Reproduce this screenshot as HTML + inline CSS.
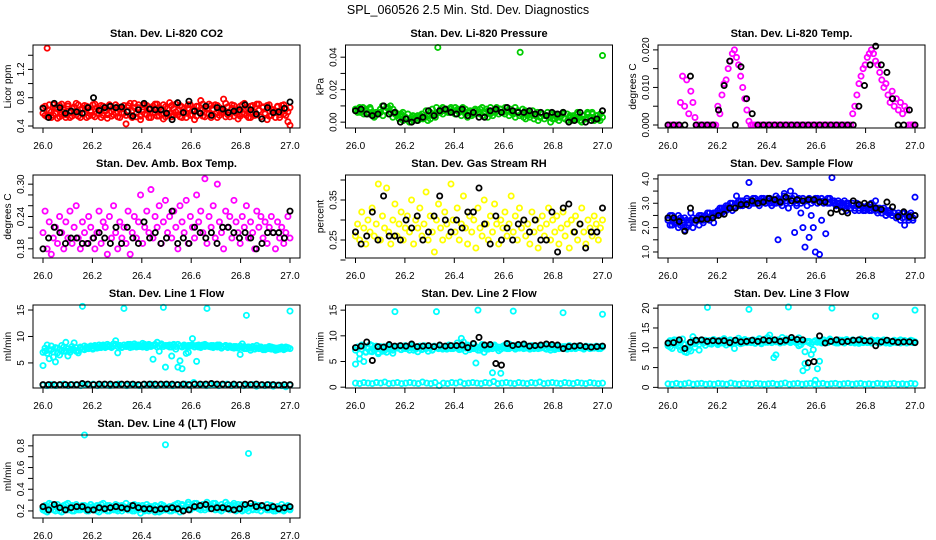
<!DOCTYPE html>
<html><head><meta charset="utf-8">
<style>
html,body{margin:0;padding:0;background:#fff;}
svg{display:block;font-family:"Liberation Sans",Arial,sans-serif;}
</style></head>
<body>
<svg id="c" width="936" height="540" viewBox="0 0 936 540" xmlns="http://www.w3.org/2000/svg">
<rect x="0" y="0" width="936" height="540" fill="#fff"/>
<text x="468" y="14" text-anchor="middle" font-size="12.5">SPL_060526  2.5 Min. Std. Dev. Diagnostics</text>
</svg>
<script>
// ---- data ----
const xTickLabels = ["26.0","26.2","26.4","26.6","26.8","27.0"];
const xTicks = [26.0,26.2,26.4,26.6,26.8,27.0];
const xStart = 26.0, xEnd = 27.0;

const co2Red = [0.66,0.55,1.50,0.62,0.52,0.70,0.58,0.64,0.53,0.71,0.60,0.56,0.68,0.52,0.65,0.59,0.72,0.54,0.63,0.57,0.69,0.52,0.66,0.60,0.55,0.71,0.58,0.64,0.52,0.68,0.61,0.56,0.70,0.54,0.63,0.59,0.67,0.52,0.65,0.58,0.43,0.69,0.55,0.62,0.72,0.53,0.66,0.49,0.60,0.70,0.56,0.64,0.52,0.68,0.59,0.71,0.54,0.62,0.50,0.67,0.57,0.73,0.53,0.65,0.60,0.56,0.69,0.52,0.64,0.58,0.70,0.55,0.62,0.49,0.68,0.60,0.76,0.54,0.66,0.58,0.71,0.52,0.64,0.57,0.69,0.55,0.62,0.78,0.53,0.67,0.59,0.70,0.54,0.63,0.50,0.68,0.57,0.72,0.55,0.64,0.52,0.69,0.60,0.56,0.71,0.53,0.66,0.58,0.49,0.70,0.55,0.63,0.59,0.67,0.52,0.69,0.57,0.64,0.46,0.41];
const co2Red2 = [0.58,0.68,0.53,0.70,0.60,0.55,0.66,0.51,0.69,0.57,0.63,0.52,0.71,0.59,0.54,0.67,0.56,0.70,0.52,0.65,0.58,0.68,0.54,0.62,0.70,0.53,0.66,0.57,0.69,0.55,0.63,0.51,0.67,0.60,0.56,0.70,0.53,0.64,0.58,0.69,0.55,0.61,0.72,0.52,0.66,0.58,0.70,0.54,0.63,0.57,0.69,0.52,0.65,0.59,0.71,0.54,0.66,0.57,0.70,0.53,0.64,0.58,0.69,0.55,0.71,0.62,0.53,0.67,0.59,0.52,0.65,0.70,0.56,0.63,0.54,0.68,0.58,0.71,0.53,0.64,0.57,0.69,0.55,0.70,0.52,0.66,0.59,0.63,0.72,0.56,0.53,0.65,0.69,0.58,0.61,0.54,0.70,0.57,0.63,0.52,0.68,0.59,0.55,0.71,0.62,0.53,0.67,0.57,0.69,0.54,0.64,0.60,0.52,0.68,0.56,0.63,0.70,0.55,0.60,0.66];
const co2Black = [0.65,0.52,0.72,0.66,0.58,0.61,0.60,0.58,0.66,0.80,0.62,0.66,0.68,0.66,0.67,0.60,0.54,0.63,0.72,0.64,0.63,0.63,0.58,0.49,0.73,0.59,0.75,0.61,0.58,0.68,0.55,0.66,0.64,0.59,0.61,0.63,0.70,0.63,0.57,0.50,0.66,0.59,0.60,0.65,0.74];

const presGreen = [0.007,0.008,0.006,0.009,0.007,0.005,0.008,0.006,0.004,0.005,0.006,0.004,0.007,0.009,0.010,0.008,0.006,0.005,0.004,0.006,0.003,0.005,0.002,0.004,0.003,0.001,0.004,0.002,0.003,0.001,0.002,0.004,0.003,0.046,0.006,0.005,0.007,0.006,0.008,0.007,0.009,0.008,0.007,0.009,0.008,0.006,0.007,0.005,0.008,0.006,0.005,0.004,0.006,0.003,0.005,0.004,0.006,0.007,0.008,0.006,0.009,0.007,0.008,0.006,0.009,0.007,0.043,0.008,0.007,0.006,0.005,0.007,0.004,0.006,0.003,0.005,0.004,0.006,0.003,0.005,0.002,0.004,0.003,0.005,0.002,0.001,0.004,0.002,0.003,0.005,0.001,0.004,0.002,0.006,0.003,0.005,0.002,0.004,0.001,0.041];
const presGreen2 = [0.008,0.006,0.009,0.007,0.005,0.008,0.006,0.009,0.005,0.003,0.006,0.005,0.008,0.010,0.007,0.009,0.005,0.006,0.003,0.005,0.004,0.002,0.005,0.001,0.003,0.002,0.000,0.003,0.001,0.002,0.004,0.002,0.005,0.003,0.007,0.004,0.006,0.008,0.005,0.009,0.006,0.008,0.009,0.007,0.008,0.006,0.009,0.007,0.005,0.007,0.006,0.004,0.007,0.005,0.003,0.006,0.004,0.005,0.007,0.006,0.008,0.009,0.006,0.008,0.007,0.009,0.006,0.007,0.009,0.005,0.008,0.006,0.005,0.007,0.004,0.006,0.005,0.003,0.006,0.004,0.005,0.003,0.002,0.004,0.003,0.005,0.002,0.004,0.001,0.003,0.005,0.002,0.004,0.003,0.000,0.002,0.005,0.003,0.001,0.004,0.006,0.002,0.005,0.003,0.001,0.004,0.002,0.006,0.003,0.000,0.004,0.002,0.005,0.003,0.006,0.001,0.004,0.002,0.005,0.003];
const presBlack = [0.007,0.008,0.005,0.004,0.005,0.010,0.005,0.006,0.000,0.002,0.000,0.001,0.003,0.007,0.004,0.007,0.008,0.006,0.005,0.008,0.004,0.006,0.003,0.003,0.007,0.008,0.006,0.009,0.007,0.006,0.006,0.007,0.005,0.006,0.004,0.006,0.005,0.006,0.000,0.001,0.006,0.000,0.001,0.002,0.007];

const tempMag = [0,0,0,0,0,0,0.006,0.013,0.005,0.012,0.003,0.009,0.006,0.002,0,0,0,0,0,0,0,0,0,0,0.005,0.003,0.008,0.011,0.012,0.015,0.017,0.019,0.020,0.018,0.016,0.013,0.010,0.007,0.004,0.001,0,0,0,0,0,0,0,0,0,0,0,0,0,0,0,0,0,0,0,0,0,0,0,0,0,0,0,0,0,0,0,0,0,0,0,0,0,0,0,0,0,0,0,0,0,0,0,0,0,0.003,0.005,0.008,0.011,0.013,0.015,0.016,0.018,0.019,0.020,0.019,0.017,0.016,0.014,0.012,0.010,0.011,0.008,0.006,0.009,0.005,0.007,0.004,0.006,0.003,0.005,0.004,0,0,0,0];
const tempBlack = [0,0,0,0,0.013,0,0,0,0,0.004,0.0105,0.017,0,0.0155,0.007,0.003,0,0,0,0,0,0,0,0,0,0,0,0,0,0,0,0,0,0,0.005,0.0105,0.016,0.021,0.016,0.014,0.007,0,0,0.004,0];

const ambMag = [0.21,0.25,0.18,0.23,0.17,0.20,0.22,0.19,0.24,0.21,0.18,0.23,0.20,0.25,0.19,0.22,0.26,0.20,0.18,0.23,0.21,0.19,0.24,0.22,0.20,0.18,0.21,0.25,0.19,0.23,0.22,0.17,0.24,0.20,0.26,0.21,0.18,0.23,0.20,0.22,0.19,0.25,0.17,0.21,0.24,0.20,0.23,0.28,0.19,0.22,0.25,0.21,0.29,0.20,0.24,0.22,0.26,0.19,0.23,0.27,0.21,0.24,0.20,0.25,0.22,0.18,0.26,0.23,0.21,0.27,0.19,0.24,0.22,0.20,0.28,0.23,0.25,0.21,0.31,0.19,0.24,0.22,0.26,0.20,0.30,0.23,0.21,0.18,0.25,0.22,0.24,0.20,0.27,0.23,0.21,0.19,0.24,0.22,0.26,0.20,0.23,0.21,0.18,0.25,0.22,0.24,0.20,0.23,0.19,0.22,0.24,0.21,0.18,0.23,0.20,0.22,0.19,0.21,0.24,0.20];
const ambBlack = [0.18,0.20,0.22,0.21,0.19,0.20,0.20,0.19,0.19,0.20,0.21,0.20,0.19,0.22,0.19,0.22,0.20,0.19,0.23,0.20,0.21,0.19,0.20,0.25,0.19,0.20,0.19,0.22,0.21,0.20,0.21,0.19,0.22,0.22,0.21,0.20,0.21,0.20,0.18,0.19,0.21,0.21,0.21,0.20,0.25];

const rhYellow = [0.26,0.29,0.25,0.32,0.28,0.24,0.30,0.27,0.33,0.26,0.29,0.39,0.25,0.31,0.28,0.38,0.27,0.24,0.30,0.34,0.26,0.29,0.32,0.25,0.28,0.31,0.27,0.35,0.24,0.30,0.28,0.33,0.26,0.29,0.37,0.25,0.31,0.27,0.22,0.30,0.34,0.28,0.25,0.32,0.29,0.26,0.39,0.30,0.27,0.33,0.25,0.29,0.36,0.28,0.24,0.31,0.27,0.30,0.23,0.33,0.28,0.26,0.35,0.29,0.25,0.31,0.27,0.34,0.29,0.24,0.30,0.28,0.32,0.26,0.29,0.36,0.27,0.31,0.25,0.33,0.28,0.30,0.26,0.29,0.24,0.32,0.27,0.30,0.23,0.28,0.31,0.26,0.29,0.33,0.25,0.30,0.27,0.31,0.24,0.28,0.32,0.26,0.29,0.23,0.30,0.27,0.31,0.25,0.29,0.33,0.27,0.24,0.30,0.28,0.26,0.31,0.29,0.25,0.28,0.30];
const rhBlack = [0.27,0.24,0.26,0.32,0.25,0.36,0.26,0.26,0.25,0.30,0.28,0.31,0.25,0.27,0.31,0.36,0.30,0.27,0.30,0.28,0.32,0.32,0.38,0.29,0.24,0.31,0.25,0.28,0.25,0.29,0.30,0.27,0.30,0.25,0.25,0.32,0.22,0.33,0.34,0.27,0.29,0.23,0.27,0.27,0.33];

const flowBlue = [2.4,2.1,2.5,2.2,2.3,2.0,2.4,2.2,1.9,2.3,2.1,2.6,2.0,2.3,2.4,2.1,2.5,2.3,2.4,2.6,2.3,2.5,2.2,2.6,2.7,2.6,2.8,2.7,2.9,2.8,3.0,2.7,2.9,3.3,2.9,3.1,2.9,3.0,3.1,3.85,3.0,3.2,3.0,3.1,3.0,3.2,3.1,3.0,3.2,3.0,3.1,3.0,3.3,1.5,3.1,2.9,3.4,3.1,2.8,3.5,3.2,1.8,3.0,3.2,2.6,2.0,1.2,3.1,1.6,2.5,2.0,1.0,3.2,0.9,2.3,3.1,1.75,3.0,3.2,4.05,3.1,2.9,3.0,3.0,2.9,3.1,2.7,3.0,2.8,2.9,2.7,3.0,2.8,2.9,2.7,2.8,2.9,2.7,3.0,2.9,3.1,2.8,2.7,2.6,2.8,2.5,2.7,2.6,2.5,2.6,2.4,2.5,2.3,2.6,2.1,2.5,2.4,2.6,2.3,3.25];
const flowBlue2 = [2.3,2.5,2.1,2.4,2.2,2.5,2.1,2.3,2.4,2.0,2.2,2.3,2.4,2.2,2.3,2.5,2.4,2.2,2.5,2.4,2.6,2.4,2.6,2.5,2.6,2.8,2.6,2.8,2.7,2.9,2.8,3.0,2.8,3.0,3.1,2.9,3.1,3.0,3.2,2.9,3.1,3.0,3.2,3.1,2.9,3.1,3.2,3.0,3.1,3.2,2.9,3.1,3.0,3.2,3.0,3.1,3.3,3.0,3.2,3.0,3.1,3.3,2.9,3.1,3.0,3.2,3.1,2.9,3.2,3.0,3.1,3.2,3.0,3.1,3.2,3.0,3.1,3.2,3.0,3.1,3.0,2.9,3.1,2.9,3.0,2.8,3.0,2.9,2.8,3.0,2.8,2.9,2.7,2.9,2.8,2.7,2.9,2.8,2.7,2.8,2.7,2.6,2.8,2.6,2.7,2.5,2.6,2.7,2.5,2.6,2.4,2.6,2.5,2.4,2.6,2.5,2.3,2.5,2.4,2.5];
const flowBlack = [2.4,2.4,2.25,1.85,2.8,2.3,2.35,2.35,2.4,2.5,2.55,2.8,2.8,2.95,2.95,3.1,3.0,3.05,3.2,3.15,3.05,3.25,3.1,3.15,3.1,3.15,3.15,3.05,3.05,2.6,2.75,2.65,2.6,3.1,2.95,3.0,2.95,2.8,2.75,3.05,2.85,2.45,2.65,2.45,2.5];

const line1Cyan = [4.5,7.2,8.4,5.8,7.5,6.1,5.2,7.8,6.5,8.3,7.2,8.9,6.3,7.0,7.6,8.8,7.2,6.9,7.8,15.7,7.5,8.0,7.7,8.2,7.6,8.1,7.8,8.4,7.9,8.2,8.0,8.5,8.1,7.9,8.6,9.2,6.9,8.3,8.0,15.3,8.2,8.5,7.9,8.3,8.6,8.0,8.4,8.1,8.7,8.2,7.9,8.5,8.3,5.7,8.4,8.9,7.2,8.6,15.5,4.2,8.3,8.0,6.3,8.5,7.6,4.2,5.4,3.9,8.2,6.8,7.0,8.3,9.6,8.0,5.3,8.4,7.9,8.2,8.5,15.3,8.1,8.3,7.9,8.2,8.0,8.4,7.8,8.1,8.3,7.9,8.2,8.0,7.8,8.1,7.9,6.6,8.6,7.7,14.0,8.0,7.4,8.1,7.7,8.3,7.8,8.0,7.5,7.9,7.7,8.1,7.6,7.9,7.4,7.8,7.6,8.0,7.5,7.7,7.9,14.8];
const line1Cyan2 = [7.0,7.8,6.8,7.4,8.2,7.1,7.9,6.9,7.6,7.3,8.0,7.2,7.7,7.4,8.1,7.5,7.9,7.3,8.0,7.6,8.2,7.7,7.9,8.1,7.8,8.3,8.0,7.9,8.2,8.4,7.9,8.1,8.3,8.0,8.2,8.5,8.1,8.3,7.9,8.4,8.1,8.3,8.5,8.0,8.2,8.4,8.1,8.3,8.0,8.5,8.2,8.4,8.1,8.3,8.5,8.0,8.2,8.4,8.1,8.3,8.2,8.4,8.0,8.3,8.1,8.5,8.2,8.0,8.4,8.1,8.3,8.2,8.4,8.1,8.3,8.0,8.2,8.4,8.1,8.3,8.2,8.0,8.3,8.1,8.4,8.2,7.9,8.1,8.3,8.0,8.2,7.9,8.1,8.0,7.8,8.2,7.9,8.1,7.7,8.0,7.8,8.0,7.6,7.9,7.7,8.0,7.8,7.5,7.9,7.7,8.0,7.6,7.8,7.5,7.9,7.7,7.6,8.0,7.8,7.7];
const line1Low = [0.8,0.7,0.9,0.7,0.8,1.0,0.7,0.9,0.8,0.7,0.9,0.8,1.0,0.7,0.8,0.9,0.7,0.8,1.0,0.8,0.7,0.9,0.8,0.7,0.9,0.8,1.0,0.7,0.8,0.9,0.8,0.7,0.9,0.8,1.0,0.7,1.3,0.8,0.9,0.7,0.8,0.9,0.7,0.8,1.0,0.7,0.8,0.9,0.7,0.8,0.9,0.6,0.8,0.7,0.9,0.6,0.8,0.7,0.5,0.8];
const line1Black = [0.9,0.9,0.9,0.9,0.9,0.9,0.9,1.1,1.0,0.9,1.0,1.0,1.0,0.9,1.0,1.0,1.0,0.9,1.0,1.0,1.0,1.0,1.0,1.0,0.9,1.0,0.9,1.0,1.0,1.0,1.1,1.0,1.0,0.9,1.0,0.9,1.0,0.9,1.0,0.9,0.9,0.9,0.8,0.9,0.9];

const line2Cyan = [4.5,7.8,5.5,8.2,5.0,6.8,7.5,8.3,6.9,7.2,8.0,6.5,7.7,7.0,7.9,6.8,8.1,7.4,6.6,14.7,7.8,8.0,7.3,7.6,8.1,7.5,7.9,8.2,7.2,7.7,6.9,8.0,7.4,8.1,7.6,7.0,7.9,7.3,8.0,14.7,7.6,8.0,7.4,7.9,7.7,8.2,7.5,7.8,8.0,7.6,7.3,9.5,8.8,7.0,8.2,8.0,7.5,8.4,4.7,15.0,7.2,8.3,6.8,7.7,7.4,8.0,2.8,8.2,7.6,7.1,2.7,7.9,8.2,7.5,8.4,7.7,14.8,8.1,7.6,8.0,7.8,8.2,7.6,8.0,7.7,8.1,7.5,7.9,8.0,7.6,7.8,8.1,7.4,7.9,7.6,8.0,7.3,7.8,8.0,7.6,14.5,7.9,7.7,8.1,7.5,7.9,7.6,8.0,7.7,7.8,7.5,8.0,7.7,7.9,7.6,7.8,8.0,7.5,7.9,14.2];
const line2Cyan2 = [7.2,7.8,6.5,7.4,8.0,6.9,7.6,7.0,8.1,7.3,7.7,6.8,7.9,7.4,7.1,7.8,7.5,7.9,7.2,7.7,7.6,8.0,7.3,7.8,7.5,7.9,7.2,7.7,8.0,7.4,7.8,7.6,7.3,7.9,7.5,7.8,7.6,7.2,7.9,7.7,7.5,8.0,7.6,7.8,7.4,7.9,7.7,7.5,8.1,8.6,7.8,7.4,7.9,7.6,8.0,7.3,7.8,7.5,7.9,7.2,7.7,8.0,7.6,7.4,7.9,7.7,7.5,7.9,7.6,7.8,7.4,8.0,7.6,7.8,7.5,7.9,7.7,7.4,7.9,7.6,7.8,7.5,8.0,7.7,7.4,7.8,7.6,7.9,7.5,7.7,8.0,7.6,7.4,7.8,7.2,7.9,7.6,7.8,7.5,7.7,7.9,7.6,7.4,7.8,7.6,7.9,7.5,7.7,7.8,7.6,7.4,7.9,7.7,7.5,7.8,7.6,7.9,7.7,7.5,7.8];
const line2Low = [0.8,0.7,0.9,0.8,0.7,0.9,0.8,1.0,0.7,0.8,0.9,0.7,0.8,0.9,0.8,0.7,1.0,0.8,0.7,0.9,0.3,0.8,0.7,0.9,0.8,1.0,0.7,0.8,0.9,0.8,0.7,0.9,0.8,1.1,0.7,0.8,0.9,0.8,0.7,0.9,0.8,0.7,0.9,0.8,1.0,0.7,0.8,0.9,0.8,0.7,0.9,0.8,0.7,0.9,0.8,0.7,0.9,0.8,0.7,0.8];
const line2Black = [7.7,8.0,8.8,5.2,7.9,7.8,8.3,8.0,8.1,8.0,8.4,7.9,8.0,8.1,7.9,8.2,8.0,8.1,8.1,8.2,7.7,8.5,9.7,8.2,8.3,4.6,4.3,8.5,8.1,8.3,8.4,8.0,8.1,8.2,8.4,8.3,8.2,7.5,7.9,8.0,8.1,7.9,7.8,7.9,8.0];

const line3Cyan = [10.5,11.8,9.8,12.0,10.9,11.5,9.5,12.2,10.8,8.8,11.0,9.2,12.8,10.1,11.6,9.4,12.0,11.2,10.6,20.2,11.8,10.9,12.1,11.3,10.8,11.9,11.2,12.3,10.7,11.6,12.0,11.1,9.8,11.8,12.4,11.0,11.7,12.1,11.3,19.7,11.5,12.0,11.2,11.8,12.3,11.0,11.7,12.2,11.4,13.2,11.8,7.5,8.2,12.0,11.4,12.6,11.8,12.2,20.3,11.5,12.1,11.8,11.2,12.5,10.8,4.2,6.0,5.0,11.6,8.3,9.5,1.8,4.7,6.6,11.5,12.0,11.3,11.8,12.2,20.0,11.6,11.2,12.0,11.5,11.9,11.2,12.1,11.6,11.3,12.0,11.5,11.8,11.1,12.2,11.4,11.7,11.3,11.8,12.0,11.5,18.0,11.9,11.2,11.7,12.0,11.4,11.8,11.1,11.6,11.9,11.3,11.7,12.0,11.4,11.8,11.2,11.6,11.9,11.3,19.5];
const line3Cyan2 = [11.0,10.2,11.6,10.8,11.9,10.4,11.3,9.8,9.0,10.0,9.6,11.2,11.8,11.0,11.5,10.9,11.7,11.2,11.9,11.4,11.0,11.6,11.3,11.8,11.1,11.5,11.9,11.2,11.7,11.4,11.0,11.6,11.8,11.3,11.5,11.9,11.2,11.7,11.4,11.8,11.3,11.6,11.1,11.9,11.5,11.2,11.8,11.4,12.6,11.6,11.3,11.9,11.5,11.7,11.2,11.8,11.4,11.6,11.9,11.3,11.7,11.5,11.2,10.5,11.8,11.4,9.0,11.6,11.3,11.0,11.5,11.8,11.4,11.6,11.2,11.9,11.5,11.3,11.8,11.6,11.4,11.7,11.2,11.9,11.5,11.3,11.7,11.6,11.4,11.8,11.2,11.6,11.5,11.9,11.3,11.7,11.4,11.6,11.2,11.8,11.5,11.3,11.7,11.4,11.6,11.2,11.8,11.5,11.3,11.6,11.4,11.7,11.2,11.5,11.8,11.3,11.6,11.4,11.7,11.5];
const line3Low = [0.9,0.8,1.0,0.8,0.9,1.1,0.8,0.9,1.0,0.8,0.9,0.8,1.0,0.9,0.8,1.1,0.9,0.8,1.0,0.9,0.8,1.0,0.9,0.8,0.9,1.0,0.8,0.9,1.1,0.8,0.9,1.0,0.8,0.9,1.0,0.8,0.9,1.0,0.8,0.9,1.0,0.8,0.9,1.0,0.8,0.9,1.0,0.8,0.9,0.8,1.0,0.9,0.8,0.9,1.0,0.8,0.9,0.8,1.0,0.9];
const line3Black = [11.2,11.3,12.0,9.8,11.4,11.9,12.0,11.6,11.8,11.7,11.8,11.3,11.9,11.5,11.6,11.9,11.6,12.0,11.8,12.0,11.6,11.9,12.6,12.1,12.0,6.2,6.5,13.0,11.2,11.6,12.0,11.5,11.6,11.9,12.0,11.8,11.7,10.5,11.5,11.9,11.6,11.4,11.5,11.5,11.3];

const line4Cyan = [0.21,0.25,0.19,0.27,0.22,0.24,0.20,0.26,0.23,0.19,0.25,0.21,0.27,0.22,0.20,0.24,0.26,0.21,0.23,0.25,0.90,0.22,0.20,0.26,0.24,0.21,0.25,0.19,0.23,0.27,0.22,0.20,0.25,0.24,0.21,0.26,0.20,0.23,0.25,0.22,0.27,0.21,0.24,0.20,0.26,0.22,0.25,0.18,0.23,0.21,0.26,0.20,0.24,0.22,0.25,0.21,0.19,0.26,0.23,0.81,0.22,0.24,0.20,0.25,0.21,0.23,0.19,0.26,0.22,0.24,0.28,0.21,0.25,0.23,0.27,0.22,0.24,0.26,0.21,0.28,0.23,0.25,0.22,0.27,0.24,0.21,0.26,0.23,0.28,0.22,0.25,0.24,0.27,0.21,0.26,0.23,0.20,0.25,0.22,0.73,0.24,0.21,0.26,0.23,0.25,0.20,0.24,0.22,0.26,0.21,0.25,0.23,0.20,0.24,0.22,0.26,0.21,0.23,0.25,0.22];
const line4Cyan2 = [0.23,0.20,0.24,0.22,0.26,0.21,0.25,0.23,0.20,0.24,0.22,0.26,0.21,0.23,0.25,0.20,0.22,0.24,0.21,0.23,0.25,0.20,0.24,0.22,0.21,0.23,0.20,0.24,0.26,0.21,0.23,0.25,0.20,0.22,0.24,0.21,0.25,0.22,0.20,0.24,0.23,0.21,0.25,0.22,0.20,0.24,0.21,0.23,0.25,0.20,0.22,0.24,0.21,0.23,0.19,0.24,0.22,0.20,0.25,0.21,0.23,0.20,0.24,0.22,0.26,0.27,0.23,0.25,0.21,0.24,0.26,0.22,0.25,0.27,0.23,0.24,0.21,0.26,0.23,0.25,0.22,0.24,0.27,0.21,0.25,0.23,0.20,0.24,0.22,0.26,0.21,0.23,0.25,0.20,0.24,0.22,0.26,0.21,0.23,0.20,0.24,0.22,0.25,0.21,0.23,0.20,0.24,0.22,0.21,0.23,0.25,0.20,0.22,0.24,0.21,0.23,0.20,0.22,0.24,0.21];
const line4Black = [0.24,0.21,0.26,0.23,0.21,0.23,0.24,0.24,0.21,0.21,0.23,0.22,0.23,0.24,0.23,0.22,0.25,0.23,0.22,0.22,0.21,0.22,0.22,0.23,0.22,0.20,0.21,0.24,0.25,0.26,0.22,0.23,0.23,0.22,0.21,0.22,0.26,0.27,0.24,0.25,0.23,0.24,0.22,0.23,0.24];

// ---- panel definitions ----
const panels = [
 {id:"co2",title:"Stan. Dev. Li-820 CO2",ylab:"Licor ppm",lo:0.372,hi:1.545,ticks:[0.4,0.6,0.8,1.0,1.2,1.4],labels:["0.4","","0.8","","1.2",""],series:[[co2Red,"#ff0000"],[co2Red2,"#ff0000"],[co2Black,"#000"]]},
 {id:"pressure",title:"Stan. Dev. Li-820 Pressure",ylab:"kPa",lo:-0.0036,hi:0.0475,ticks:[0,0.01,0.02,0.03,0.04],labels:["0.00","","0.02","","0.04"],series:[[presGreen,"#00cc00"],[presGreen2,"#00cc00"],[presBlack,"#000"]]},
 {id:"temp",title:"Stan. Dev. Li-820 Temp.",ylab:"degrees C",lo:-0.0008,hi:0.0213,ticks:[0,0.005,0.010,0.015,0.020],labels:["0.000","","0.010","","0.020"],series:[[tempMag,"#ff00ff"],[tempBlack,"#000"]]},
 {id:"amb-box-temp",title:"Stan. Dev. Amb. Box Temp.",ylab:"degrees C",lo:0.163,hi:0.317,ticks:[0.18,0.20,0.22,0.24,0.26,0.28,0.30],labels:["0.18","","","0.24","","","0.30"],series:[[ambMag,"#ff00ff"],[ambBlack,"#000"]]},
 {id:"gas-rh",title:"Stan. Dev. Gas Stream RH",ylab:"percent",lo:0.205,hi:0.4125,ticks:[0.20,0.25,0.30,0.35,0.40],labels:["","0.25","","0.35",""],series:[[rhYellow,"#ffff00"],[rhBlack,"#000"]]},
 {id:"sample-flow",title:"Stan. Dev. Sample Flow",ylab:"ml/min",lo:0.753,hi:4.16,ticks:[1.0,1.5,2.0,2.5,3.0,3.5,4.0],labels:["1.0","","2.0","","3.0","","4.0"],series:[[flowBlue,"#0000ff"],[flowBlue2,"#0000ff"],[flowBlack,"#000"]]},
 {id:"line1-flow",title:"Stan. Dev. Line 1 Flow",ylab:"ml/min",lo:0.26,hi:15.95,ticks:[5,10,15],labels:["5","10","15"],series:[[line1Cyan,"#00ffff"],[line1Cyan2,"#00ffff"],[line1Low,"#00ffff"],[line1Black,"#000"]]},
 {id:"line2-flow",title:"Stan. Dev. Line 2 Flow",ylab:"ml/min",lo:-0.16,hi:16,ticks:[0,5,10,15],labels:["0","5","10","15"],series:[[line2Cyan,"#00ffff"],[line2Cyan2,"#00ffff"],[line2Low,"#00ffff"],[line2Black,"#000"]]},
 {id:"line3-flow",title:"Stan. Dev. Line 3 Flow",ylab:"ml/min",lo:-0.16,hi:20.8,ticks:[0,5,10,15,20],labels:["0","5","10","15","20"],series:[[line3Cyan,"#00ffff"],[line3Cyan2,"#00ffff"],[line3Low,"#00ffff"],[line3Black,"#000"]]},
 {id:"line4-flow",title:"Stan. Dev. Line 4 (LT) Flow",ylab:"ml/min",lo:0.135,hi:0.90,ticks:[0.2,0.3,0.4,0.5,0.6,0.7,0.8],labels:["0.2","","0.4","","0.6","","0.8"],series:[[line4Cyan,"#00ffff"],[line4Cyan2,"#00ffff"],[line4Black,"#000"]]}
];

const NS="http://www.w3.org/2000/svg";
const svg=document.getElementById("c");
function mk(tag,attrs,parent){const e=document.createElementNS(NS,tag);for(const k in attrs)e.setAttribute(k,attrs[k]);parent.appendChild(e);return e;}

panels.forEach((p,idx)=>{
  const col=idx%3,row=Math.floor(idx/3);
  const L=33+312.5*col,R=L+267,T=45+130*row,B=T+83;
  const x0=L+10,x1=R-10;
  const xs=v=>x0+(v-xStart)/(xEnd-xStart)*(x1-x0);
  const ys=v=>B-(v-p.lo)/(p.hi-p.lo)*(B-T);
  const g=mk("g",{},svg);
  
  
  const t=mk("text",{x:(L+R)/2,y:T-8,"text-anchor":"middle","font-size":"11","font-weight":"bold"},g);
  
  
  t.textContent=p.title;
  const pts=mk("g",{fill:"none","stroke-width":"1.8"},g);
  
  
  p.series.forEach(([vals,color])=>{
    const n=vals.length;
    vals.forEach((v,i)=>{
      const c=mk("circle",{cx:xs(xStart+(xEnd-xStart)*i/(n-1)).toFixed(2),cy:ys(v).toFixed(2),r:"2.6",stroke:color},pts);
      
      
    });
  });
  const box=mk("rect",{x:L,y:T,width:R-L,height:B-T,fill:"none",stroke:"#000","stroke-width":"1"},g);
  
  
  const xa=mk("g",{},g);
  
  
  xTicks.forEach((v,i)=>{
    mk("line",{x1:xs(v),x2:xs(v),y1:B,y2:B+5,stroke:"#000"},xa);
    const tl=mk("text",{x:xs(v),y:B+21,"text-anchor":"middle","font-size":"10"},xa);
    
    
    tl.textContent=xTickLabels[i];
  });
  const ya=mk("g",{},g);
  
  
  p.ticks.forEach((v,i)=>{
    const y=ys(v);
    mk("line",{x1:L,x2:L-5,y1:y,y2:y,stroke:"#000"},ya);
    if(p.labels[i]){
      const tl=mk("text",{x:0,y:0,"text-anchor":"middle","font-size":"10",transform:`translate(${L-9},${y}) rotate(-90)`},ya);
      
      
      tl.textContent=p.labels[i];
    }
  });
  const yl=mk("text",{x:0,y:0,"text-anchor":"middle","font-size":"10",transform:`translate(${L-22},${(T+B)/2}) rotate(-90)`},g);
  
  
  yl.textContent=p.ylab;
});
</script>
</body></html>
